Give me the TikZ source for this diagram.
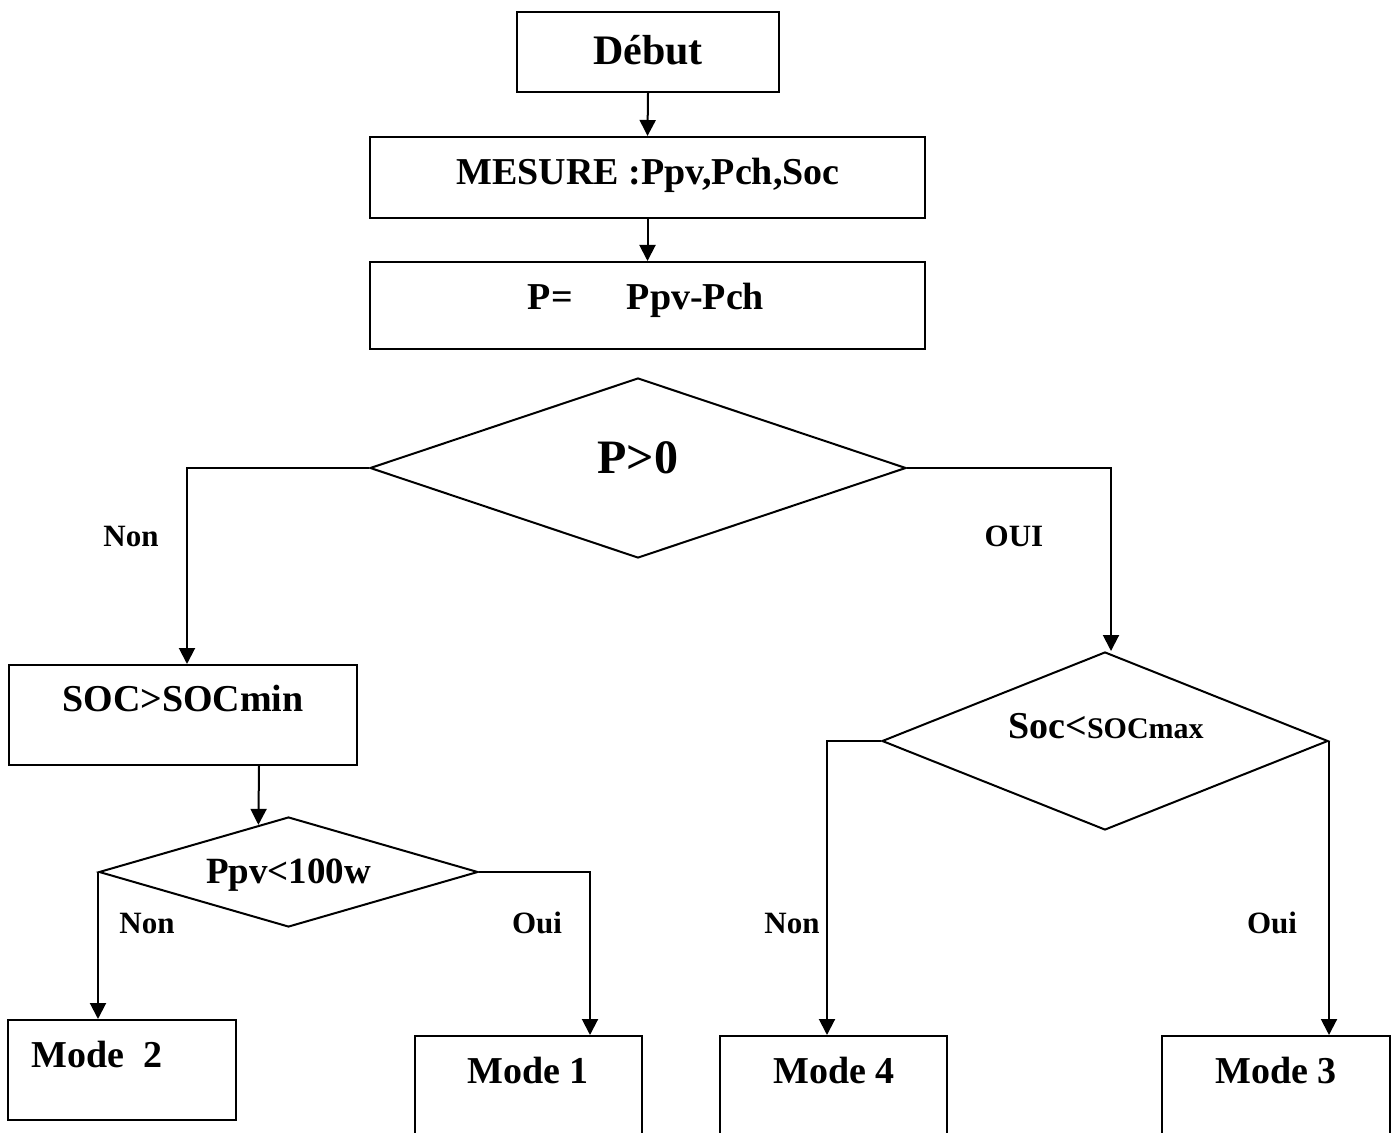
\documentclass[tikz,border=0pt]{standalone}
\usepackage{fontspec}
\setmainfont{Liberation Serif}
\usetikzlibrary{shapes.geometric,arrows.meta,calc}

\begin{document}
\begin{tikzpicture}[x=0.5pt,y=-0.5pt,
  box/.style={draw,line width=1pt,rectangle,inner sep=0pt},
  dia/.style={draw,line width=1pt,diamond,inner sep=0pt,aspect=1},
  arr/.style={line width=1pt,-{Triangle[length=8pt,width=8pt]}},
  txt/.style={anchor=base,inner sep=0pt,font=\bfseries\fontsize{19}{19}\selectfont},
  lbl/.style={anchor=base,inner sep=0pt,font=\bfseries\fontsize{15.5}{16}\selectfont}]
\useasboundingbox (0,0) rectangle (1397,1133);
\clip (0,0) rectangle (1397,1133);

% process boxes
\node[box,minimum width=131pt,minimum height=40pt] (debut) at (648,52) {};
\node[box,minimum width=277.5pt,minimum height=40.5pt] (mesure) at (647.5,177.5) {};
\node[box,minimum width=277.5pt,minimum height=43.5pt] (calc) at (647.5,305.5) {};
\node[box,minimum width=174pt,minimum height=50pt] (soc) at (183,715) {};
\node[box,minimum width=114pt,minimum height=50pt] (m2) at (122,1070) {};
\node[box,minimum width=113.5pt,minimum height=52pt] (m1) at (528.5,1088) {};
\node[box,minimum width=113.5pt,minimum height=52pt] (m4) at (833.5,1088) {};
\node[box,minimum width=114pt,minimum height=52pt] (m3) at (1276,1088) {};

% decisions
\node[dia,minimum width=268pt,minimum height=90pt] (pd) at (638,468) {};
\node[dia,minimum width=189.5pt,minimum height=55pt] (pv) at (288.5,872) {};
\node[dia,minimum width=223pt,minimum height=89pt] (sd) at (1105,741) {};

% texts
\node[txt,font=\bfseries\fontsize{21}{21}\selectfont] (debut-t) at (648,65) {Début};
\node[txt] (mesure-t) at (648,185) {MESURE :Ppv,Pch,Soc};
\node[txt] (calc-t) at (646,310) {P=\hspace{27pt}Ppv-Pch};
\node[txt,font=\bfseries\fontsize{24}{24}\selectfont] (pd-t) at (638,474) {P>0};
\node[txt] (soc-t) at (183,711) {SOC>SOCmin};
\node[txt,font=\bfseries\fontsize{18.5}{18.5}\selectfont] (pv-t) at (288.5,883) {Ppv<100w};
\node[txt] (sd-t) at (1106,738) {\fontsize{19}{19}\selectfont Soc<\fontsize{15}{15}\selectfont SOCmax};
\node[txt,anchor=base west] (m2-t) at (31,1067) {Mode\ \ 2};
\node[txt] (m1-t) at (528,1083) {Mode 1};
\node[txt] (m4-t) at (834,1083) {Mode 4};
\node[txt] (m3-t) at (1276,1083) {Mode 3};

% branch labels
\node[lbl] (l-non1) at (131,546) {Non};
\node[lbl] (l-oui1) at (1014,546) {OUI};
\node[lbl] (l-non2) at (147,933) {Non};
\node[lbl] (l-oui2) at (537,933) {Oui};
\node[lbl] (l-non3) at (792,933) {Non};
\node[lbl] (l-oui3) at (1272,933) {Oui};

% connectors
\draw[arr] (debut.south) -- (mesure.north);
\draw[arr] (mesure.south) -- (calc.north);
\draw[arr] (pd.west) -| ($(soc.north)+(4,0)$);
\draw[arr] (pd.east) -| ($(sd.north)+(6,0)$);
\draw[arr] ($(soc.south)+(76,0)$) -- ($(pv.west)!0.842!(pv.north)$);
\draw[arr] (pv.west) -- (pv.west |- m2.north);
\draw[arr] (pv.east) -| ($(m1.north)+(61.5,0)$);
\draw[arr] (sd.west) -| ($(m4.north)+(-6.5,0)$);
\draw[arr] (sd.east) -- (sd.east |- m3.north);
\end{tikzpicture}
\end{document}
